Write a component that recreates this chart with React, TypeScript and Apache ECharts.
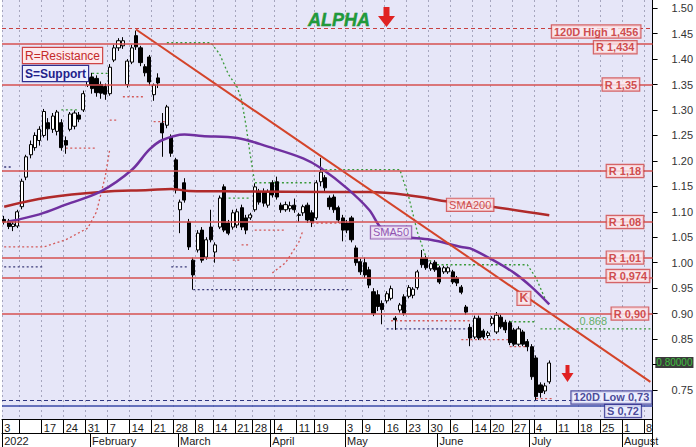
import React, { useEffect, useRef } from 'react';
import * as echarts from 'echarts';

// ATHEX trading days 2022 (category axis)
const JAN = [3, 4, 5, 7, 10, 11, 12, 13, 14, 17, 18, 19, 20, 21, 24, 25, 26, 27, 28, 31];
const FEB = [1, 2, 3, 4, 7, 8, 9, 10, 11, 14, 15, 16, 17, 18, 21, 22, 23, 24, 25, 28];
const MAR = [1, 2, 3, 4, 8, 9, 10, 11, 14, 15, 16, 17, 18, 21, 22, 23, 24, 28, 29, 30, 31];
const APR = [1, 4, 5, 6, 7, 8, 11, 12, 13, 14, 19, 20, 21, 26, 27, 28, 29];
const MAY = [3, 4, 5, 6, 9, 10, 11, 12, 13, 16, 17, 18, 19, 20, 23, 24, 25, 26, 27, 30, 31];
const JUN = [1, 2, 3, 6, 7, 8, 9, 10, 14, 15, 16, 17, 20, 21, 22, 23, 24, 27, 28, 29, 30];
const JUL = [1, 4, 5, 6, 7, 8, 11, 12, 13, 14, 15, 18, 19, 20, 21, 22, 25, 26, 27, 28, 29];
const AUG = [1, 2, 3, 4, 5, 8, 9];

// OHLC as [open, close, low, high]
const candles = [
  [1.085, 1.080, 1.075, 1.092], [1.082, 1.071, 1.066, 1.086], [1.071, 1.076, 1.062, 1.080], [1.072, 1.100, 1.068, 1.104],
  [1.110, 1.160, 1.105, 1.165], [1.168, 1.208, 1.162, 1.212], [1.212, 1.232, 1.205, 1.240], [1.226, 1.250, 1.220, 1.256],
  [1.240, 1.262, 1.230, 1.268], [1.250, 1.297, 1.246, 1.302], [1.275, 1.263, 1.240, 1.284], [1.262, 1.288, 1.255, 1.294],
  [1.258, 1.296, 1.250, 1.300], [1.275, 1.226, 1.220, 1.282], [1.240, 1.231, 1.214, 1.248], [1.262, 1.292, 1.258, 1.296],
  [1.268, 1.294, 1.262, 1.299], [1.290, 1.282, 1.276, 1.296], [1.300, 1.332, 1.296, 1.338], [1.349, 1.364, 1.345, 1.370],
  [1.365, 1.342, 1.332, 1.373], [1.362, 1.334, 1.326, 1.368], [1.350, 1.333, 1.322, 1.356], [1.346, 1.331, 1.320, 1.352],
  [1.332, 1.384, 1.328, 1.390], [1.398, 1.422, 1.394, 1.428], [1.422, 1.436, 1.416, 1.441], [1.426, 1.436, 1.420, 1.443],
  [1.350, 1.396, 1.344, 1.400], [1.394, 1.422, 1.390, 1.428], [1.446, 1.424, 1.418, 1.456], [1.422, 1.393, 1.386, 1.426],
  [1.385, 1.373, 1.366, 1.390], [1.404, 1.355, 1.348, 1.408], [1.330, 1.349, 1.318, 1.352], [1.363, 1.353, 1.343, 1.372],
  [1.274, 1.255, 1.208, 1.294], [1.270, 1.306, 1.264, 1.310], [1.247, 1.215, 1.208, 1.252], [1.202, 1.143, 1.136, 1.206],
  [1.104, 1.119, 1.058, 1.124], [1.157, 1.123, 1.118, 1.166], [1.080, 1.031, 1.025, 1.086], [1.005, 0.976, 0.947, 1.010],
  [1.025, 1.058, 1.020, 1.064], [1.064, 1.005, 1.000, 1.070], [1.011, 1.045, 1.006, 1.050], [1.070, 1.045, 1.040, 1.104],
  [1.021, 1.035, 1.000, 1.040], [1.070, 1.127, 1.066, 1.132], [1.149, 1.064, 1.060, 1.154], [1.078, 1.058, 1.054, 1.084],
  [1.070, 1.098, 1.065, 1.104], [1.074, 1.100, 1.068, 1.106], [1.108, 1.070, 1.064, 1.114], [1.088, 1.064, 1.056, 1.094],
  [1.088, 1.094, 1.084, 1.098], [1.104, 1.149, 1.100, 1.156], [1.139, 1.119, 1.114, 1.145], [1.139, 1.117, 1.110, 1.146],
  [1.113, 1.139, 1.108, 1.144], [1.157, 1.133, 1.128, 1.162], [1.159, 1.129, 1.124, 1.169], [1.113, 1.104, 1.098, 1.118],
  [1.104, 1.114, 1.100, 1.120], [1.106, 1.112, 1.100, 1.120], [1.113, 1.104, 1.098, 1.126], [1.094, 1.093, 1.080, 1.098],
  [1.098, 1.110, 1.092, 1.114], [1.113, 1.084, 1.078, 1.118], [1.098, 1.080, 1.070, 1.103], [1.088, 1.157, 1.084, 1.162],
  [1.159, 1.178, 1.150, 1.206], [1.167, 1.147, 1.140, 1.172], [1.127, 1.110, 1.104, 1.132], [1.129, 1.104, 1.098, 1.134],
  [1.108, 1.084, 1.078, 1.112], [1.088, 1.064, 1.042, 1.094], [1.078, 1.064, 1.058, 1.084], [1.088, 1.045, 1.040, 1.092],
  [1.029, 1.000, 0.994, 1.034], [1.002, 0.982, 0.976, 1.008], [1.000, 0.976, 0.970, 1.010], [0.986, 0.956, 0.950, 0.992],
  [0.943, 0.900, 0.895, 0.950], [0.937, 0.914, 0.905, 0.946], [0.920, 0.908, 0.879, 0.926], [0.925, 0.939, 0.920, 0.944],
  [0.930, 0.949, 0.926, 0.955], [0.891, 0.888, 0.868, 0.895], [0.907, 0.917, 0.902, 0.921], [0.933, 0.900, 0.896, 0.938],
  [0.934, 0.951, 0.930, 0.956], [0.936, 0.948, 0.930, 0.952], [0.951, 0.982, 0.947, 0.986], [1.009, 0.996, 0.990, 1.025],
  [1.009, 0.990, 0.986, 1.014], [0.988, 0.998, 0.984, 1.002], [1.001, 0.986, 0.982, 1.005], [0.990, 0.962, 0.958, 0.994],
  [0.982, 0.990, 0.978, 0.994], [0.982, 0.990, 0.978, 0.993], [0.982, 0.962, 0.958, 0.986], [0.970, 0.960, 0.954, 0.974],
  [0.952, 0.942, 0.938, 0.956], [0.913, 0.903, 0.898, 0.917], [0.873, 0.852, 0.836, 0.880], [0.854, 0.891, 0.850, 0.896],
  [0.891, 0.852, 0.848, 0.896], [0.866, 0.854, 0.850, 0.870], [0.857, 0.862, 0.852, 0.866], [0.880, 0.891, 0.876, 0.895],
  [0.864, 0.897, 0.860, 0.903], [0.893, 0.874, 0.870, 0.898], [0.883, 0.868, 0.862, 0.888], [0.882, 0.843, 0.838, 0.886],
  [0.868, 0.840, 0.836, 0.872], [0.840, 0.870, 0.836, 0.875], [0.864, 0.840, 0.836, 0.868], [0.845, 0.835, 0.826, 0.850],
  [0.835, 0.776, 0.770, 0.840], [0.813, 0.737, 0.730, 0.818], [0.760, 0.745, 0.735, 0.765], [0.748, 0.758, 0.742, 0.764],
  [0.766, 0.803, 0.762, 0.808],
];

// moving averages: [day index, value]
const sma200 = [
  [0, 1.110], [10, 1.128], [22, 1.139], [33, 1.143], [38, 1.145], [42, 1.141], [54, 1.140],
  [74, 1.139], [83, 1.139], [94, 1.130], [101, 1.120], [111, 1.110], [124, 1.093],
];
const sma50 = [
  [1, 1.081], [8, 1.095], [14, 1.114], [22, 1.140], [29, 1.182], [33, 1.222], [36, 1.241], [41, 1.252],
  [45, 1.249], [53, 1.245], [60, 1.228], [68, 1.205], [72, 1.186], [78, 1.146], [83, 1.104], [86, 1.066],
  [90, 1.052], [97, 1.045], [104, 1.031], [106, 1.028], [111, 1.006], [116, 0.980], [120, 0.952], [124, 0.918],
];
const trendLine = [[30, 1.458], [147, 0.766]];

// trailing bands (dotted)
const redBands = [
  [[0, 1.031], [9, 1.031], [14, 1.045], [19, 1.068], [21, 1.10], [23, 1.17], [24, 1.222]],
  [[14, 1.225], [21, 1.225]],
  [[24, 1.28], [26, 1.28]],
  [[27, 1.326], [32, 1.326]],
  [[34, 1.277], [37, 1.277]],
  [[52, 1.005], [54, 1.005]],
  [[54, 1.035], [56, 1.035]],
  [[57, 1.064], [64, 1.064]],
  [[61, 0.98], [64, 1.0], [67, 1.04], [68, 1.064]],
  [[70, 1.078], [77, 1.078]],
  [[88, 0.886], [106, 0.886]],
  [[104, 0.849], [115, 0.849]],
  [[115, 0.835], [119, 0.835]],
  [[121, 0.733], [125, 0.733]],
];
const greenBands = [
  [[13, 1.30], [17, 1.30]],
  [[20, 1.372], [24, 1.372]],
  [[37, 1.432], [47, 1.432], [49, 1.41], [51, 1.37], [53, 1.345], [54, 1.32], [55, 1.27], [56, 1.21], [57, 1.157], [70, 1.157]],
  [[49, 1.127], [56, 1.127]],
  [[72, 1.183], [90, 1.183], [92, 1.13], [94, 1.06], [96, 1.01], [98, 0.996], [119, 0.996], [121, 0.97], [123, 0.93]],
  [[115, 0.884], [121, 0.884]],
  [[122, 0.870], [147, 0.870]],
];
const navyBands = [
  [[0, 0.992], [9, 0.992]],
  [[0, 1.188], [2, 1.188]],
  [[38, 0.992], [42, 0.992]],
  [[43, 0.947], [79, 0.947]],
  [[87, 0.870], [106, 0.870]],
];

const resistanceLevels = [1.434, 1.35, 1.18, 1.08, 1.01, 0.974, 0.90];
const resistanceTexts = ['R 1,434', 'R 1,35', 'R 1,18', 'R 1,08', 'R 1,01', 'R 0,974', 'R 0,90'];
const high120 = 1.456;
const low120 = 0.73;
const supportLevel = 0.72;
const lastPrice = 0.80;
const yTicks = [0.75, 0.80, 0.85, 0.90, 0.95, 1.00, 1.05, 1.10, 1.15, 1.20, 1.25, 1.30, 1.35, 1.40, 1.45, 1.50];
const yLabels = [0.75, 0.85, 0.90, 0.95, 1.00, 1.05, 1.10, 1.15, 1.20, 1.25, 1.30, 1.35, 1.40, 1.45, 1.50];

const dayTicks: [number, string][] = [
  [0, '3'], [4, ''], [9, '17'], [14, '24'], [19, '31'], [24, '7'], [29, '14'], [34, '21'], [39, '28'],
  [44, '8'], [48, '14'], [53, '21'], [57, '28'], [61, ''], [62, '4'], [67, '11'], [71, '19'], [78, '3'],
  [82, '9'], [87, '16'], [92, '23'], [97, '30'], [102, '6'], [107, '14'], [111, '20'], [116, '27'],
  [120, ''], [121, '4'], [126, '11'], [131, '18'], [136, '25'], [141, '1'], [146, '8'],
];
const monthTicks: [number, string][] = [
  [0, '2022'], [20, 'February'], [40, 'March'], [61, 'April'], [78, 'May'], [99, 'June'], [120, 'July'], [141, 'August'],
];

const MONTH_DAYS = [JAN, FEB, MAR, APR, MAY, JUN, JUL, AUG];
const dates: string[] = [];
MONTH_DAYS.forEach((days, m) => days.forEach((d) => dates.push(`2022-${String(m + 1).padStart(2, '0')}-${String(d).padStart(2, '0')}`)));

const FONT = '"Liberation Sans", Arial, sans-serif';

export default function App() {
  const ref = useRef<HTMLDivElement>(null);
  useEffect(() => {
    if (!ref.current) return;
    const chart = echarts.init(ref.current, undefined, { renderer: 'svg' });

    const dayMap = new Map(dayTicks);
    const monthMap = new Map(monthTicks);
    const gridLineSet = new Set(dayTicks.filter(([i]) => i !== 61 && i !== 120).map(([i]) => i));

    const redBox = {
      color: '#c42424', backgroundColor: '#fde8ec', borderColor: '#cf4444', borderWidth: 1.2,
      padding: [1, 2, 0, 2], fontSize: 11, fontWeight: 'bold', fontFamily: FONT,
    };
    const blueBox = {
      color: '#20207e', backgroundColor: '#eef0ff', borderColor: '#30308e', borderWidth: 1.2,
      padding: [1, 2, 0, 2], fontSize: 11, fontWeight: 'bold', fontFamily: FONT,
    };

    const rPlace = [[139, 0, 5.5], [140, 1.3, 0], [141, 1, 0], [141, 1, 0], [141, 1, 0], [142, -0.5, 0], [142, 1.5, 0]];
    const labelItems: any[] = resistanceLevels.map((v, k) => ({
      value: [rPlace[k][0], v],
      label: { ...redBox, formatter: resistanceTexts[k], offset: [rPlace[k][1], rPlace[k][2]] },
    }));
    labelItems.push(
      { value: [135, high120], label: { ...redBox, formatter: '120D High 1,456', offset: [-1.5, 1] } },
      { value: [138, low120], label: { ...blueBox, formatter: '120D Low 0,73', offset: [0.6, -2.7] } },
      { value: [141, supportLevel], label: { ...blueBox, formatter: 'S 0,72', offset: [-1, 5.7] } },
      { value: [106, 1.1136], label: { ...redBox, fontWeight: 'normal', formatter: 'SMA200', offset: [0, 0] } },
      {
        value: [88, 1.0595],
        label: {
          ...redBox, fontWeight: 'normal', color: '#7a2fa0', borderColor: '#8a48a8', backgroundColor: '#f1e8f8',
          formatter: 'SMA50',
        },
      },
      { value: [118, 0.93], label: { ...redBox, fontSize: 12, formatter: 'K', offset: [1, 0] } },
      { value: [134, 0.886], label: { color: '#3fa03f', fontSize: 11, fontFamily: FONT, formatter: '0.868' } },
      {
        value: [147, lastPrice],
        label: {
          color: '#3fe040', backgroundColor: '#0a0a0a', fontSize: 10, fontFamily: FONT,
          padding: [1, 1, 0, 1], formatter: lastPrice.toFixed(5), offset: [24, -2],
        },
      },
    );

    const bandSeries = (bands: number[][][], color: string) =>
      bands.map((pts) => ({
        type: 'line', data: pts, showSymbol: false, silent: true, z: 2,
        lineStyle: { color, width: 1.3, type: [2, 2.5] },
      }));

    const hl = (v: number, color: string, width: number, type: any = 'solid') => ({
      yAxis: v, lineStyle: { color, width, type },
    });

    const option: any = {
      animation: false,
      textStyle: { fontFamily: FONT },
      grid: { left: 2, right: 43, top: 0, bottom: 28, show: true, backgroundColor: '#e6e6f8', borderWidth: 0 },
      xAxis: [
        {
          type: 'category', data: dates, boundaryGap: true,
          axisLine: { lineStyle: { color: '#000', width: 1 } },
          axisTick: { show: true, interval: (i: number) => dayMap.has(i), length: 14, lineStyle: { color: '#000' } },
          axisLabel: {
            interval: (i: number) => dayMap.has(i), formatter: (_v: string, i: number) => dayMap.get(i) ?? '',
            align: 'left', margin: 3, fontSize: 11, color: '#1a1a1a',
          },
          splitLine: { show: true, interval: (i: number) => gridLineSet.has(i), lineStyle: { color: '#a6a6be', type: [2, 3], width: 1 } },
        },
        {
          type: 'category', data: dates, boundaryGap: true, position: 'bottom', offset: 14,
          axisLine: { lineStyle: { color: '#000', width: 1 } },
          axisTick: { show: true, interval: (i: number) => monthMap.has(i), length: 14, lineStyle: { color: '#000' } },
          axisLabel: {
            interval: (i: number) => monthMap.has(i), formatter: (_v: string, i: number) => monthMap.get(i) ?? '',
            align: 'left', margin: 2, fontSize: 11, color: '#1a1a1a',
          },
          splitLine: { show: false },
        },
      ],
      yAxis: {
        type: 'value', position: 'right', min: 0.693, max: 1.516, scale: true,
        axisLine: { show: true, lineStyle: { color: '#000', width: 1 } },
        axisTick: { show: true, length: 5, customValues: yTicks, lineStyle: { color: '#000' } },
        axisLabel: { customValues: yLabels, formatter: (v: number) => v.toFixed(2), margin: 19, fontSize: 11, color: '#333' },
        splitLine: { show: false },
      },
      series: [
        {
          type: 'line', data: [[0, null]], showSymbol: false, silent: true, z: 1,
          markLine: {
            symbol: 'none', silent: true, label: { show: false },
            data: [
              ...resistanceLevels.map((v) => hl(v, '#d65050', 1.6)),
              hl(high120, '#c84040', 1, [4, 3]),
              hl(low120, '#2e3680', 1.2, [4, 3]),
              hl(supportLevel, '#3a4aa8', 1.6),
            ],
          },
        },
        ...bandSeries(redBands, '#d45a5a'),
        ...bandSeries(greenBands, '#3a9a3a'),
        ...bandSeries(navyBands, '#3a3a78'),
        {
          type: 'candlestick', data: candles, barWidth: 3.6, z: 3,
          itemStyle: { color: '#ffffff', color0: '#000000', borderColor: '#000000', borderColor0: '#000000', borderWidth: 1 },
        },
        {
          type: 'line', data: sma200, smooth: 0.4, showSymbol: false, z: 4,
          lineStyle: { color: '#b02a2a', width: 2.5 },
        },
        {
          type: 'line', data: sma50, smooth: 0.35, showSymbol: false, z: 4,
          lineStyle: { color: '#7030a0', width: 2.5 },
        },
        {
          type: 'line', data: trendLine, showSymbol: false, z: 4,
          lineStyle: { color: '#d4442a', width: 2 },
        },
        {
          type: 'scatter', data: labelItems, symbolSize: 0, z: 10, clip: false, silent: true,
          label: { show: true, position: 'inside' },
        },
      ],
      graphic: [
        {
          type: 'text', x: 339, y: 20, z: 100,
          style: {
            text: 'ALPHA', fill: '#1f9a3a', fontSize: 18, fontWeight: 'bold', fontStyle: 'italic',
            fontFamily: FONT, align: 'center', verticalAlign: 'middle', stroke: '#157a2c', lineWidth: 0.4,
          },
        },
        {
          type: 'polygon', z: 100,
          shape: { points: [[383.5, 7], [389.5, 7], [389.5, 16], [395, 16], [386.5, 27], [378, 16], [383.5, 16]] },
          style: { fill: '#e02222' },
        },
        {
          type: 'polygon', z: 100,
          shape: { points: [[565.5, 365], [569.5, 365], [569.5, 373], [573.5, 373], [567.5, 382], [561.5, 373], [565.5, 373]] },
          style: { fill: '#e02222' },
        },
        {
          type: 'text', x: 23, y: 48, z: 100,
          style: {
            text: 'R=Resistance', fill: '#c42828', fontSize: 12, fontFamily: FONT,
            backgroundColor: '#fde8ec', borderColor: '#cf4444', borderWidth: 1.2, padding: [2, 2, 1, 2],
          },
        },
        {
          type: 'text', x: 23, y: 66, z: 100,
          style: {
            text: 'S=Support', fill: '#22228a', fontSize: 12, fontWeight: 'bold', fontFamily: FONT,
            backgroundColor: '#eef0ff', borderColor: '#30308e', borderWidth: 1.2, padding: [2, 2, 1, 2],
          },
        },
      ],
    };
    chart.setOption(option);
    return () => chart.dispose();
  }, []);
  return <div ref={ref} style={{ position: 'fixed', left: 0, top: 0, width: 696, height: 447, background: '#fff' }} />;
}
